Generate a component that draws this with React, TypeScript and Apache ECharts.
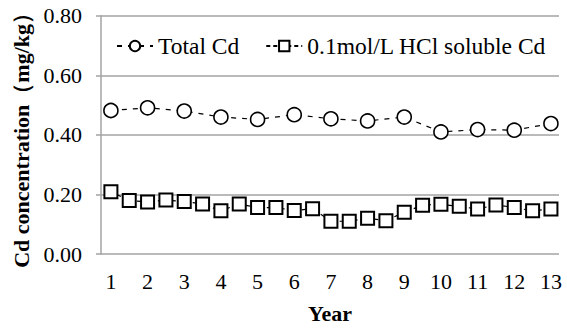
import React, { useEffect, useRef } from "react";
import * as echarts from "echarts";

const years = [1, 2, 3, 4, 5, 6, 7, 8, 9, 10, 11, 12, 13];
const totalCd = [0.482, 0.491, 0.48, 0.46, 0.452, 0.468, 0.454, 0.447, 0.46, 0.41, 0.418, 0.416, 0.438];
const halfYears = [1, 1.5, 2, 2.5, 3, 3.5, 4, 4.5, 5, 5.5, 6, 6.5, 7, 7.5, 8, 8.5, 9, 9.5, 10, 10.5, 11, 11.5, 12, 12.5, 13];
const hclCd = [
  0.209, 0.18, 0.175, 0.181, 0.176, 0.168, 0.145, 0.168, 0.156, 0.156, 0.146, 0.152,
  0.11, 0.11, 0.12, 0.112, 0.14, 0.164, 0.167, 0.16, 0.151, 0.165, 0.156, 0.145, 0.151,
];
const yTicks = [0, 0.2, 0.4, 0.6, 0.8];
const seriesNames = ["Total Cd", "0.1mol/L HCl soluble Cd"];

const FONT = "'Liberation Serif', 'Times New Roman', serif";
const GRID = "#a3a3a3";

export default function App() {
  const ref = useRef<HTMLDivElement>(null);
  useEffect(() => {
    if (!ref.current) return;
    const chart = echarts.init(ref.current, null, { renderer: "svg" });
    chart.setOption({
      animation: false,
      backgroundColor: "#ffffff",
      textStyle: { fontFamily: FONT, color: "#000" },
      grid: { left: 101, right: 8, top: 13, bottom: 73 },
      legend: {
        data: seriesNames,
        left: 111,
        top: 29,
        itemWidth: 36,
        itemHeight: 13,
        itemGap: 26,
        textStyle: { fontFamily: FONT, fontSize: 23.5, color: "#000" },
      },
      xAxis: {
        type: "value",
        min: 0.73,
        max: 13.22,
        name: "Year",
        nameLocation: "middle",
        nameGap: 48,
        nameTextStyle: { fontFamily: FONT, fontSize: 22, fontWeight: "bold", color: "#000" },
        axisLine: { show: false },
        axisTick: { show: false },
        splitLine: { show: false },
        axisLabel: {
          customValues: years,
          margin: 16,
          fontFamily: FONT,
          fontSize: 22,
          color: "#000",
        },
      },
      yAxis: {
        type: "value",
        min: 0,
        max: 0.8,
        interval: 0.2,
        name: "Cd concentration（mg/kg）",
        nameLocation: "middle",
        nameGap: 66,
        nameTextStyle: { fontFamily: FONT, fontSize: 22, fontWeight: "bold", color: "#000" },
        axisLine: { show: true, lineStyle: { color: GRID, width: 1.5 } },
        axisTick: { show: true, length: 5, lineStyle: { color: GRID, width: 1.5 } },
        splitLine: { show: true, lineStyle: { color: GRID, width: 1.5 } },
        axisLabel: {
          customValues: yTicks,
          margin: 19,
          fontFamily: FONT,
          fontSize: 22,
          color: "#000",
          formatter: (v: number) => v.toFixed(2),
        },
      },
      series: [
        {
          name: seriesNames[0],
          type: "line",
          data: years.map((y, i) => [y, totalCd[i]]),
          symbol: "circle",
          symbolSize: 14,
          lineStyle: { color: "#000", width: 1.2, type: [5, 6] },
          itemStyle: { color: "#fff", borderColor: "#000", borderWidth: 1.6 },
          z: 3,
        },
        {
          name: seriesNames[1],
          type: "line",
          data: halfYears.map((x, i) => [x, hclCd[i]]),
          symbol: "rect",
          symbolSize: 13,
          lineStyle: { color: "#000", width: 1.2, type: [4, 3] },
          itemStyle: { color: "#fff", borderColor: "#000", borderWidth: 2 },
          z: 3,
        },
      ],
    });
    return () => chart.dispose();
  }, []);
  return (
    <div
      ref={ref}
      style={{ position: "fixed", left: 0, top: 0, width: 567, height: 329 }}
    />
  );
}
